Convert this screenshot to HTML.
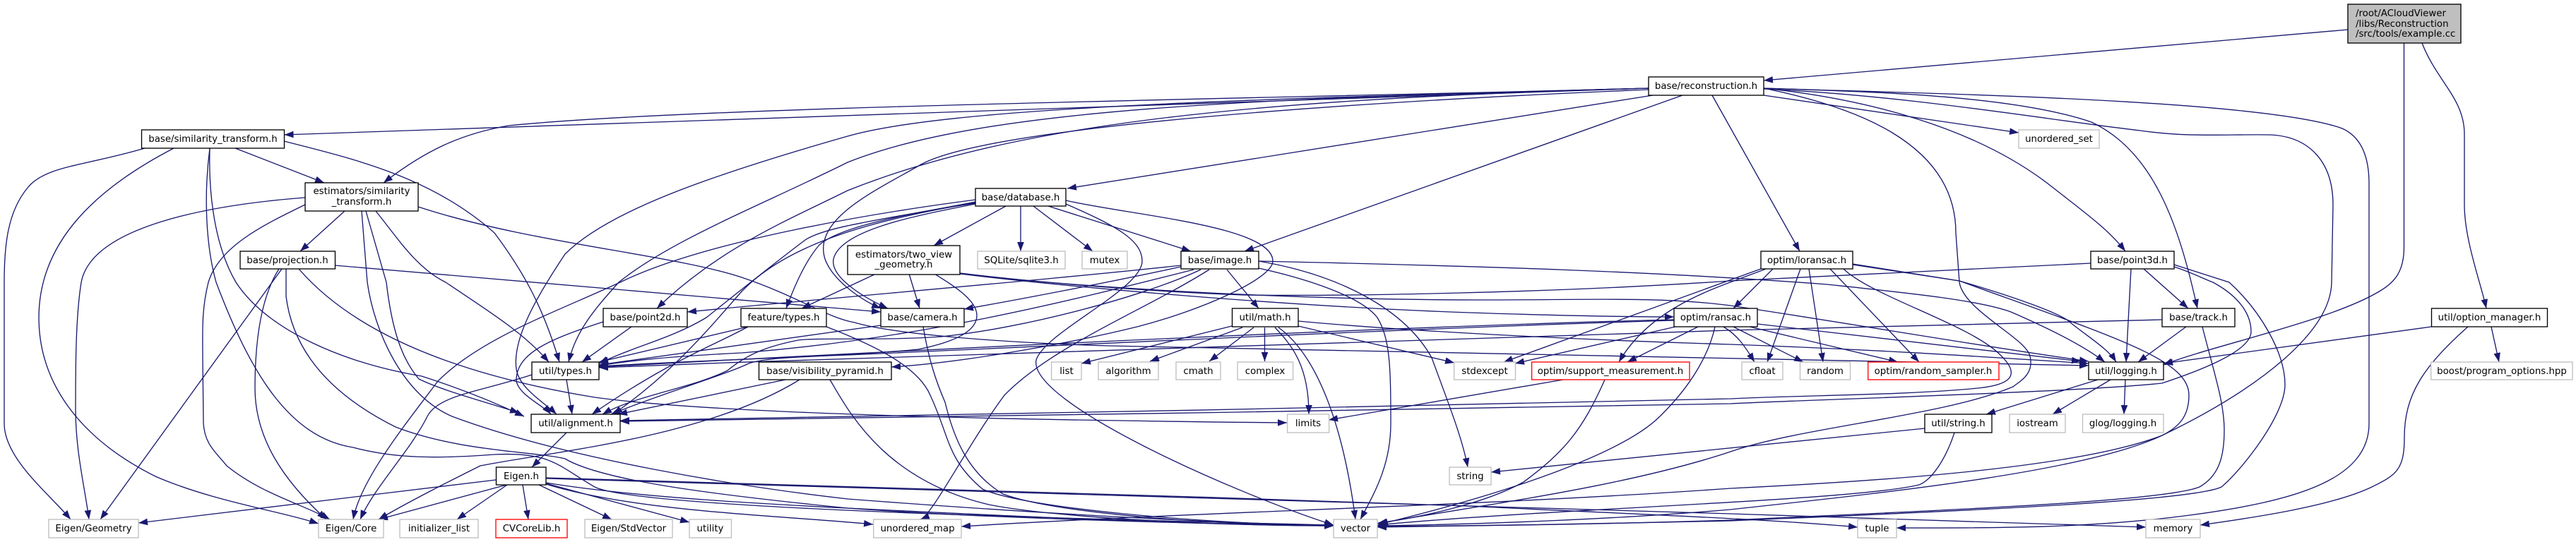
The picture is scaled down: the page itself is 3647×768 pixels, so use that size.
<!DOCTYPE html>
<html><head><meta charset="utf-8">
<style>
html,body{margin:0;padding:0;background:#fff;width:3647px;height:768px;overflow:hidden}
svg{display:block}
text{font-family:"DejaVu Sans","Liberation Sans",sans-serif;font-size:13.33px;text-anchor:middle;fill:#000}
.n rect{fill:#fff;stroke:#000;stroke-width:1.33}
.x rect{fill:#fff;stroke:#bfbfbf;stroke-width:1.33}
.r rect{fill:#fff;stroke:#f00;stroke-width:1.33}
.e path{fill:none;stroke:#191970;stroke-width:1.33}
</style></head><body>
<svg width="3647" height="768" viewBox="0 0 3647 768" xmlns="http://www.w3.org/2000/svg">
<defs><marker id="a" markerUnits="userSpaceOnUse" markerWidth="13" markerHeight="10" refX="13" refY="4.8" orient="auto"><path d="M0,0 L13,4.8 L0,9.6 Z" fill="#191970"/></marker></defs>
<g class="e"><path d="M2960,373 L2450,398 C2200,415 1900,420 1760,418 C1600,412 1450,398 1359,387"/></g>
<g class="e" marker-end="url(#a)">
<path d="M3324,42 L2497,114"/>
<path d="M3403.5,61 L3403.5,350 C3403.5,385 3390,400 3370,412 C3300,455 3130,490 3063,517"/>
<path d="M3429,61 C3450,115 3489,140 3489,190 L3489,290 C3489,340 3512,400 3520,437"/>
<path d="M3442,463 L3063,515"/>
<path d="M3527,463 L3538,513"/>
<path d="M3494,463 C3430,520 3404,560 3404,620 C3404,665 3393,673 3358,690 C3300,718 3180,735 3115,744"/>
<path d="M2497,125 C2700,132 3200,140 3316,182 C3345,195 3354,225 3354,260 L3354,600 C3354,680 3250,710 3100,730 C2950,750 2800,748 2685,748"/>
<path d="M2497,126 C2700,135 2900,170 3030,185 C3100,195 3150,190 3213,191 C3270,193 3303,230 3303,290 L3301,400 C3300,470 3200,550 3061,617 C2950,660 2700,680 2450,692 C2100,717 1700,725 1361,746"/>
<path d="M2497,125 C2650,130 2850,135 2961,173 C3050,215 3085,320 3111,437"/>
<path d="M2497,125 C2640,140 2800,180 2908,267 C2950,300 2985,325 3009,356"/>
<path d="M2497,125 C2620,150 2769,200 2769,330 L2774,400 C2780,440 2870,480 2874,505 C2880,530 2860,540 2850,548 C2750,590 2550,605 2450,640 C2300,690 2100,715 1950,742"/>
<path d="M2334,125 L402.5,191"/>
<path d="M2334,125 C1800,140 1000,150 720,178 C650,190 600,215 543,259"/>
<path d="M2334,125 C1800,140 1350,150 1200,193 C1000,250 860,300 800,360 C760,420 725,480 731,523 C735,550 770,570 788,587"/>
<path d="M2334,125 C1800,140 1400,150 1200,230 C1080,290 950,340 876,400 C840,440 815,470 805,513"/>
<path d="M2334,125 C1800,140 1450,170 1200,270 C1120,310 1020,350 930,437"/>
<path d="M2334,127 C1900,145 1400,180 1304,233 C1240,270 1150,310 1168,367 C1180,400 1225,428 1247,437"/>
<path d="M2340,135 L1511,267"/>
<path d="M2382,135 L1762,356"/>
<path d="M2424,135 L2548,356"/>
<path d="M2497,135 L2858,188"/>
<path d="M205,210 C120,235 65,235 40,265 C10,300 6,350 6,400 L6,600 C6,650 70,700 100,736"/>
<path d="M246,210 C140,265 55,340 55,450 C55,540 110,620 220,675 C300,710 400,725 451,742"/>
<path d="M297,210 C295,280 305,350 334,400 C380,470 490,515 597,533 C650,550 700,570 742,590"/>
<path d="M297,210 C288,280 292,350 306,400 C355,530 410,620 500,634 C560,650 620,650 700,644 C780,640 790,660 842,690 C900,720 1500,735 1888,744"/>
<path d="M402,200 C500,225 610,250 700,330 C745,390 770,440 792,513"/>
<path d="M333,210 L459,259"/>
<path d="M488,299 L425,356"/>
<path d="M432,280 C300,290 130,320 115,400 C107,450 107,520 107,580 C107,640 120,690 126,736"/>
<path d="M432,290 C370,320 310,350 295,400 C285,440 287,470 287,510 L288,600 C290,630 305,640 321,660 C370,700 430,715 467,736"/>
<path d="M512,299 L520,400 C530,470 570,560 640,590 C800,650 1050,690 1200,707 C1500,730 1750,742 1888,745"/>
<path d="M518,299 L547,400 C555,470 570,510 593,537 C630,555 690,570 735,585"/>
<path d="M532,299 C565,340 590,380 631,400 C690,440 740,470 777,513"/>
<path d="M592,293 C750,345 950,360 1050,393 C1130,420 1170,450 1210,457 C1260,472 1400,485 1570,490 C1900,498 2300,505 2957,518"/>
<path d="M474,376 L1247,442"/>
<path d="M399,381 L142,736"/>
<path d="M395,381 C370,420 361,480 361,550 C361,620 400,680 462,736"/>
<path d="M405,381 L405,420 C415,500 470,560 560,605 C650,640 760,640 800,650 C850,680 1000,700 1200,720 C1500,735 1750,745 1888,745"/>
<path d="M423,381 C500,470 640,530 842,563 C1000,585 1400,595 1822,599"/>
<path d="M1424,292 L1322,348"/>
<path d="M1445,292 L1445,356"/>
<path d="M1463,292 L1547,356"/>
<path d="M1484,292 L1686,356"/>
<path d="M1509,284 C1600,305 1802,320 1802,370 C1802,395 1700,440 1610,463 C1500,490 1350,515 1262,520"/>
<path d="M1509,289 C1580,320 1617,340 1617,370 C1617,410 1480,470 1467,510 C1455,570 1750,700 1888,744"/>
<path d="M1381,283 C1250,300 1000,340 878,400 C780,445 680,480 620,540 C575,600 510,680 500,736"/>
<path d="M1381,288 C1300,300 1190,320 1160,347 C1140,370 1125,405 1113,437"/>
<path d="M1381,289 C1300,305 1190,325 1180,367 C1175,395 1230,425 1257,437"/>
<path d="M1381,286 C1260,310 1170,320 1140,340 C1100,370 1050,410 1000,450 C950,480 900,490 848,515"/>
<path d="M1381,287 C1250,310 1120,340 1050,413 C1000,470 950,530 868,587"/>
<path d="M1240,388 L1135,437"/>
<path d="M1287,388 L1302,437"/>
<path d="M1323,388 C1350,405 1383,425 1383,447 C1383,470 1350,485 1300,495 C1200,505 1000,510 848,519"/>
<path d="M1359,388 C1500,405 1800,433 2080,443 C2200,447 2300,449 2370,449"/>
<path d="M1359,387 C1500,405 1800,425 2100,425 C2250,425 2350,420 2450,433 C2600,455 2800,490 2957,512"/>
<path d="M1672,376 C1500,395 1200,420 973,442"/>
<path d="M1672,378 C1560,402 1440,425 1365,438"/>
<path d="M1690,382 C1500,430 1300,480 1050,500 C950,505 900,510 848,518"/>
<path d="M1700,382 C1620,420 1450,465 1333,477 C1250,483 1160,478 1130,482 C1090,490 1060,500 1030,525 C980,550 900,560 853,587"/>
<path d="M1712,382 C1620,440 1490,490 1422,560 C1370,630 1320,730 1303,736"/>
<path d="M1737,382 L1782,437"/>
<path d="M1782,380 C1850,395 1927,420 1950,450 C1968,480 1969,520 1969,600 C1969,660 1945,700 1926,736"/>
<path d="M1782,370 C1900,390 1990,440 2027,507 C2050,570 2070,620 2078,662"/>
<path d="M1782,370 C2100,377 2350,385 2587,403 C2700,415 2800,425 2847,442 C2900,465 2950,490 2980,513"/>
<path d="M1744,462 L1531,515"/>
<path d="M1759,464 L1628,512"/>
<path d="M1775,464 L1712,512"/>
<path d="M1790.5,464 L1790.5,512"/>
<path d="M1805,464 C1830,490 1853,520 1853,587"/>
<path d="M1810,464 C1860,500 1900,590 1919,736"/>
<path d="M1838,462 L2059,514"/>
<path d="M1838,455 C2000,470 2250,482 2450,488 C2650,495 2800,505 2957,515"/>
<path d="M1059,463 L848,513"/>
<path d="M1059,463 C1010,490 950,510 838,587"/>
<path d="M1170,463 C1240,490 1300,520 1317,560 C1345,620 1340,650 1391,693 C1450,720 1700,742 1888,745"/>
<path d="M1247,461 L848,517"/>
<path d="M1307,463 C1315,510 1325,540 1338,570 C1350,620 1370,670 1420,700 C1500,730 1750,745 1888,745"/>
<path d="M1112,538 L875,587"/>
<path d="M1132,538 C1000,620 780,640 680,660 C640,680 580,710 536,736"/>
<path d="M1175,538 C1200,580 1250,680 1400,715 C1500,735 1750,745 1888,745"/>
<path d="M753,531 C680,555 620,560 605,590 C580,640 530,690 510,736"/>
<path d="M802,538 L810,587"/>
<path d="M802,613 L753,662"/>
<path d="M894,463 L824,513"/>
<path d="M854,456 C780,480 730,500 731,540 C735,560 770,575 780,587"/>
<path d="M702,680 L196,741"/>
<path d="M717,687 L536,736"/>
<path d="M718,687 L647,736"/>
<path d="M740,687 L748,736"/>
<path d="M763,687 L866,736"/>
<path d="M773,685 L976,740"/>
<path d="M773,684 C900,705 1100,715 1200,720 C1400,735 1700,742 1888,745"/>
<path d="M773,686 C900,725 1100,730 1236,743"/>
<path d="M773,677 C1000,683 1600,700 2077,717 C2300,728 2500,735 2630,747"/>
<path d="M773,678 C1000,690 1700,710 2450,728 C2700,735 2900,742 3038,747"/>
<path d="M2510,381 L2454,437"/>
<path d="M2493,381 L2129,513"/>
<path d="M2500,381 C2440,405 2340,430 2292,513"/>
<path d="M2549,381 L2502,513"/>
<path d="M2561,381 L2581,513"/>
<path d="M2591,381 L2717,513"/>
<path d="M2610,381 C2650,420 2790,460 2832,503 C2860,530 2850,545 2800,550 C2700,560 2550,560 2450,565 C2000,575 1300,590 878,596"/>
<path d="M2623,374 L2774,398 C2850,420 2920,445 2931,457 C2960,480 2985,495 2996,513"/>
<path d="M2623,375 L2774,398 C3000,480 3099,510 3099,560 C3099,590 3085,605 3061,617 C2950,670 2650,700 2450,722 C2300,735 2100,743 1950,745"/>
<path d="M2372,463 L2145,515"/>
<path d="M2404,463 L2304,513"/>
<path d="M2440,463 C2460,475 2470,490 2484,513"/>
<path d="M2454,463 L2553,513"/>
<path d="M2477,463 L2687,513"/>
<path d="M2488,459 L2946,512"/>
<path d="M2428,463 C2420,500 2396,545 2350,590 C2300,640 2150,695 1952,743"/>
<path d="M2370,453 C2000,462 1400,490 848,520"/>
<path d="M2370,454 C2000,465 1500,490 1200,503 C1120,506 1080,508 1060,515 C1030,530 930,560 865,587"/>
<path d="M2213,538 L1881,595"/>
<path d="M2272,538 C2240,610 2215,640 2157,683 C2100,715 2000,735 1951,741"/>
<path d="M3017,381 L3010,513"/>
<path d="M3035,381 L3098,437"/>
<path d="M3078,375 C3110,385 3140,395 3156,400 C3200,440 3235,500 3235,545 C3235,590 3170,670 3145,690 C3100,712 2700,727 2450,738 C2300,742 2100,745 1950,747"/>
<path d="M3078,378 C3100,385 3120,395 3133,400 C3170,420 3187,445 3187,470 C3187,500 3100,530 3061,543 C2950,555 2600,565 2450,572 C2000,580 1300,592 878,597"/>
<path d="M3095,463 L3027,513"/>
<path d="M3118,463 C3135,530 3149,570 3149,610 C3149,650 3140,675 3114,690 C3060,712 2700,725 2450,737 C2300,742 2100,745 1950,746"/>
<path d="M3061,453 L2450,468 C2200,475 1500,495 848,521"/>
<path d="M2970,538 L2812,587"/>
<path d="M2988,538 L2906,587"/>
<path d="M3009,538 L3007,587"/>
<path d="M2725,607 L2111,669"/>
<path d="M2767,613 C2755,650 2735,680 2717,687 C2620,710 2200,720 1950,744"/>
</g>
<g><rect x="3324" y="6" width="160" height="55" fill="#bfbfbf" stroke="#000" stroke-width="1.33"/><text x="3404" y="23" style="text-anchor:start" transform="translate(-69,0)">/root/ACloudViewer</text><text x="3404" y="38" style="text-anchor:start" transform="translate(-69,0)">/libs/Reconstruction</text><text x="3404" y="52" style="text-anchor:start" transform="translate(-69,0)">/src/tools/example.cc</text></g>
<g class="n">
<rect x="2334" y="109" width="163" height="26"/><text x="2415.5" y="126">base/reconstruction.h</text>
<rect x="200.500" y="184" width="202" height="26"/><text x="301.500" y="201">base/similarity_transform.h</text>
<rect x="432" y="259" width="160" height="40"/><text x="512" y="275">estimators/similarity</text><text x="512" y="290">_transform.h</text>
<rect x="340" y="356" width="134.500" height="25"/><text x="407" y="373">base/projection.h</text>
<rect x="1381" y="267" width="128" height="25"/><text x="1445" y="284">base/database.h</text>
<rect x="1200" y="348" width="159" height="41"/><text x="1279.500" y="365">estimators/two_view</text><text x="1279.500" y="379">_geometry.h</text>
<rect x="1672" y="356" width="110" height="25"/><text x="1727" y="373">base/image.h</text>
<rect x="2493" y="356" width="130" height="25"/><text x="2558" y="373">optim/loransac.h</text>
<rect x="2960" y="356" width="118" height="25"/><text x="3019" y="373">base/point3d.h</text>
<rect x="854" y="437" width="119" height="26"/><text x="913.500" y="454">base/point2d.h</text>
<rect x="1049" y="437" width="121" height="26"/><text x="1109.500" y="454">feature/types.h</text>
<rect x="1247" y="437" width="118" height="26"/><text x="1306" y="454">base/camera.h</text>
<rect x="1744.500" y="437" width="93.500" height="26"/><text x="1791" y="454">util/math.h</text>
<rect x="2370" y="437" width="118" height="26"/><text x="2429" y="454">optim/ransac.h</text>
<rect x="3061" y="437" width="103" height="26"/><text x="3112.500" y="454">base/track.h</text>
<rect x="3442.500" y="437" width="164" height="26"/><text x="3524.500" y="454">util/option_manager.h</text>
<rect x="753" y="513" width="95" height="25"/><text x="800.500" y="530">util/types.h</text>
<rect x="1074.500" y="513" width="187.500" height="25"/><text x="1168" y="530">base/visibility_pyramid.h</text>
<rect x="2957" y="513" width="106" height="25"/><text x="3010" y="530">util/logging.h</text>
<rect x="752" y="587" width="126" height="26"/><text x="815" y="604">util/alignment.h</text>
<rect x="2725" y="587" width="95" height="26"/><text x="2772.500" y="604">util/string.h</text>
<rect x="702.500" y="662" width="70.500" height="25"/><text x="738" y="679">Eigen.h</text>
</g>
<g class="x">
<rect x="1384" y="356" width="124" height="25"/><text x="1446" y="373">SQLite/sqlite3.h</text>
<rect x="1532" y="356" width="64" height="25"/><text x="1564" y="373">mutex</text>
<rect x="2858" y="184" width="114" height="26"/><text x="2915" y="201">unordered_set</text>
<rect x="69" y="736" width="127" height="26"/><text x="132.500" y="753">Eigen/Geometry</text>
<rect x="451" y="736" width="92" height="26"/><text x="497" y="753">Eigen/Core</text>
<rect x="566" y="736" width="111" height="26"/><text x="621.500" y="753">initializer_list</text>
<rect x="828" y="736" width="124" height="26"/><text x="890" y="753">Eigen/StdVector</text>
<rect x="976" y="736" width="59.500" height="26"/><text x="1005.500" y="753">utility</text>
<rect x="1236.700" y="736" width="124.300" height="26"/><text x="1299" y="753">unordered_map</text>
<rect x="1888" y="736" width="62" height="26"/><text x="1919" y="753">vector</text>
<rect x="2630" y="736" width="55" height="26"/><text x="2657.500" y="753">tuple</text>
<rect x="3038" y="736" width="77" height="26"/><text x="3076.500" y="753">memory</text>
<rect x="1488.600" y="513" width="42.400" height="25"/><text x="1510" y="530">list</text>
<rect x="1555" y="513" width="85" height="25"/><text x="1597.500" y="530">algorithm</text>
<rect x="1665" y="513" width="63" height="25"/><text x="1696.500" y="530">cmath</text>
<rect x="1752" y="513" width="78.600" height="25"/><text x="1791" y="530">complex</text>
<rect x="2058.600" y="513" width="86.900" height="25"/><text x="2102" y="530">stdexcept</text>
<rect x="2466" y="513" width="58" height="25"/><text x="2495" y="530">cfloat</text>
<rect x="2548.500" y="513" width="71" height="25"/><text x="2584" y="530">random</text>
<rect x="3441.700" y="513" width="200.300" height="25"/><text x="3542" y="530">boost/program_options.hpp</text>
<rect x="1822.600" y="587" width="59" height="26"/><text x="1852" y="604">limits</text>
<rect x="2845" y="587" width="79" height="26"/><text x="2884.500" y="604">iostream</text>
<rect x="2948.500" y="587" width="114.500" height="26"/><text x="3005.500" y="604">glog/logging.h</text>
<rect x="2052" y="662" width="59" height="25"/><text x="2081.500" y="679">string</text>
</g>
<g class="r">
<rect x="702" y="736" width="101" height="26"/><text x="752.500" y="753">CVCoreLib.h</text>
<rect x="2168.600" y="513" width="223.400" height="25"/><text x="2280" y="530">optim/support_measurement.h</text>
<rect x="2644.700" y="513" width="185.300" height="25"/><text x="2737" y="530">optim/random_sampler.h</text>
</g>
</svg>
</body></html>
